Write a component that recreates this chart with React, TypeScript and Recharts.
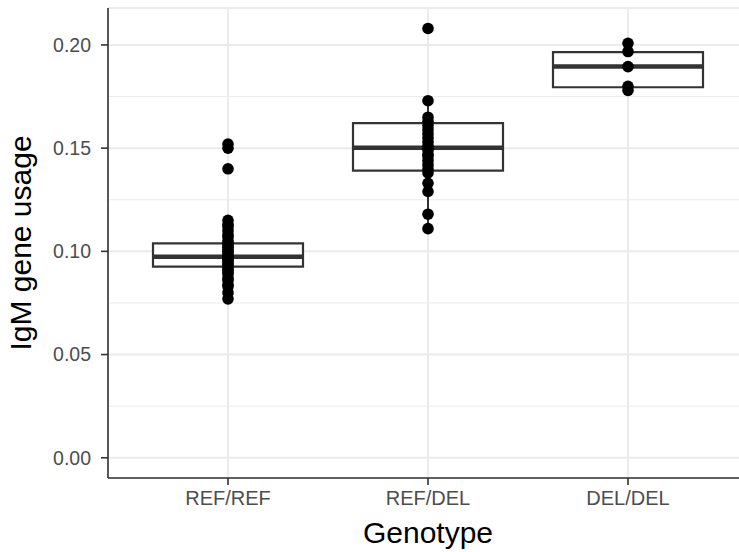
import {
  ComposedChart, Scatter, XAxis, YAxis, CartesianGrid, ReferenceArea, ReferenceLine,
} from "recharts";

const categories = ["REF/REF", "REF/DEL", "DEL/DEL"];

// IgM gene usage per donor
const refRefUsage = [
  0.152, 0.150, 0.140, 0.115, 0.113, 0.112, 0.110, 0.108, 0.107, 0.105, 0.104, 0.103,
  0.102, 0.101, 0.100, 0.099, 0.098, 0.097, 0.097, 0.096, 0.095, 0.094, 0.093, 0.092,
  0.091, 0.090, 0.089, 0.087, 0.086, 0.084, 0.083, 0.080, 0.077,
];
const refDelUsage = [
  0.208, 0.173, 0.165, 0.163, 0.161, 0.159, 0.157, 0.155, 0.153, 0.151, 0.150, 0.149,
  0.147, 0.146, 0.144, 0.142, 0.140, 0.138, 0.133, 0.129, 0.118, 0.111,
];
const delDelUsage = [0.2008, 0.1968, 0.1895, 0.180, 0.178];

// box stats per genotype
const whiskerLow = [0.077, 0.1112, 0.178];
const q1s = [0.0926, 0.1391, 0.1795];
const medians = [0.0974, 0.1502, 0.1895];
const q3s = [0.1039, 0.1621, 0.1965];
const whiskerHigh = [0.1147, 0.1733, 0.2008];

const majorTicks = [0, 0.05, 0.1, 0.15, 0.2];
const minorTicks = [0.025, 0.075, 0.125, 0.175];

const usageByGenotype = [refRefUsage, refDelUsage, delDelUsage];
const points = usageByGenotype.flatMap((vals, i) =>
  vals.map((v) => ({ genotype: i + 1, usage: v }))
);

const X_DOMAIN: [number, number] = [0.4, 3.6];
const Y_DOMAIN: [number, number] = [-0.0098, 0.2179];
const HALF = 0.375;
const FONT = "'Liberation Sans', Arial, sans-serif";
const DARK = "#333333";

export default function App() {
  return (
    <div style={{ position: "absolute", left: 0, top: 0, width: 739, height: 552, overflow: "hidden", background: "#fff" }}>
      <ComposedChart
        width={748}
        height={552}
        data={points}
        margin={{ top: 8, right: 0, bottom: 0, left: 0 }}
        style={{ fontFamily: FONT }}
      >
        <CartesianGrid yAxisId="minor" vertical={false} stroke="#EBEBEB" strokeWidth={1} />
        <CartesianGrid stroke="#EBEBEB" strokeWidth={2} />
        <XAxis
          dataKey="genotype"
          type="number"
          domain={X_DOMAIN}
          ticks={[1, 2, 3]}
          allowDataOverflow
          tickFormatter={(v: number) => categories[v - 1]}
          height={74}
          axisLine={{ stroke: DARK, strokeWidth: 1.6 }}
          tickLine={{ stroke: DARK, strokeWidth: 1.6 }}
          tickSize={7}
          tickMargin={6}
          tick={{ fill: "#4D4D4D", fontSize: 20 }}
          label={{ value: "Genotype", position: "insideBottom", offset: 9, fill: "#000", fontSize: 30 }}
        />
        <XAxis
          xAxisId="top"
          orientation="top"
          type="number"
          domain={X_DOMAIN}
          height={0}
          tick={false}
          tickLine={false}
          axisLine={{ stroke: DARK, strokeWidth: 1.6 }}
        />
        <YAxis
          dataKey="usage"
          type="number"
          domain={Y_DOMAIN}
          ticks={majorTicks}
          allowDataOverflow
          width={108}
          tickFormatter={(v: number) => v.toFixed(2)}
          axisLine={{ stroke: DARK, strokeWidth: 1.6 }}
          tickLine={{ stroke: DARK, strokeWidth: 1.6 }}
          tickSize={7}
          tickMargin={10}
          tick={{ fill: "#4D4D4D", fontSize: 19.5 }}
          label={{
            value: "IgM gene usage", angle: -90, position: "insideLeft", offset: 20,
            fill: "#000", fontSize: 30, style: { textAnchor: "middle" },
          }}
        />
        <YAxis yAxisId="minor" type="number" domain={Y_DOMAIN} ticks={minorTicks} allowDataOverflow hide />

        {categories.map((c, i) => (
          <ReferenceLine
            key={c + "-wlo"}
            segment={[{ x: i + 1, y: whiskerLow[i] }, { x: i + 1, y: q1s[i] }]}
            stroke={DARK}
            strokeWidth={2}
          />
        ))}
        {categories.map((c, i) => (
          <ReferenceLine
            key={c + "-whi"}
            segment={[{ x: i + 1, y: q3s[i] }, { x: i + 1, y: whiskerHigh[i] }]}
            stroke={DARK}
            strokeWidth={2}
          />
        ))}
        {categories.map((c, i) => (
          <ReferenceArea
            key={c + "-box"}
            x1={i + 1 - HALF}
            x2={i + 1 + HALF}
            y1={q1s[i]}
            y2={q3s[i]}
            fill="#fff"
            fillOpacity={1}
            stroke={DARK}
            strokeWidth={2.2}
          />
        ))}
        {categories.map((c, i) => (
          <ReferenceLine
            key={c + "-med"}
            segment={[{ x: i + 1 - HALF, y: medians[i] }, { x: i + 1 + HALF, y: medians[i] }]}
            stroke={DARK}
            strokeWidth={4.5}
          />
        ))}

        <Scatter
          dataKey="usage"
          isAnimationActive={false}
          shape={(p: any) => <circle cx={p.cx} cy={p.cy} r={5.8} fill="#000" />}
        />
      </ComposedChart>
    </div>
  );
}
